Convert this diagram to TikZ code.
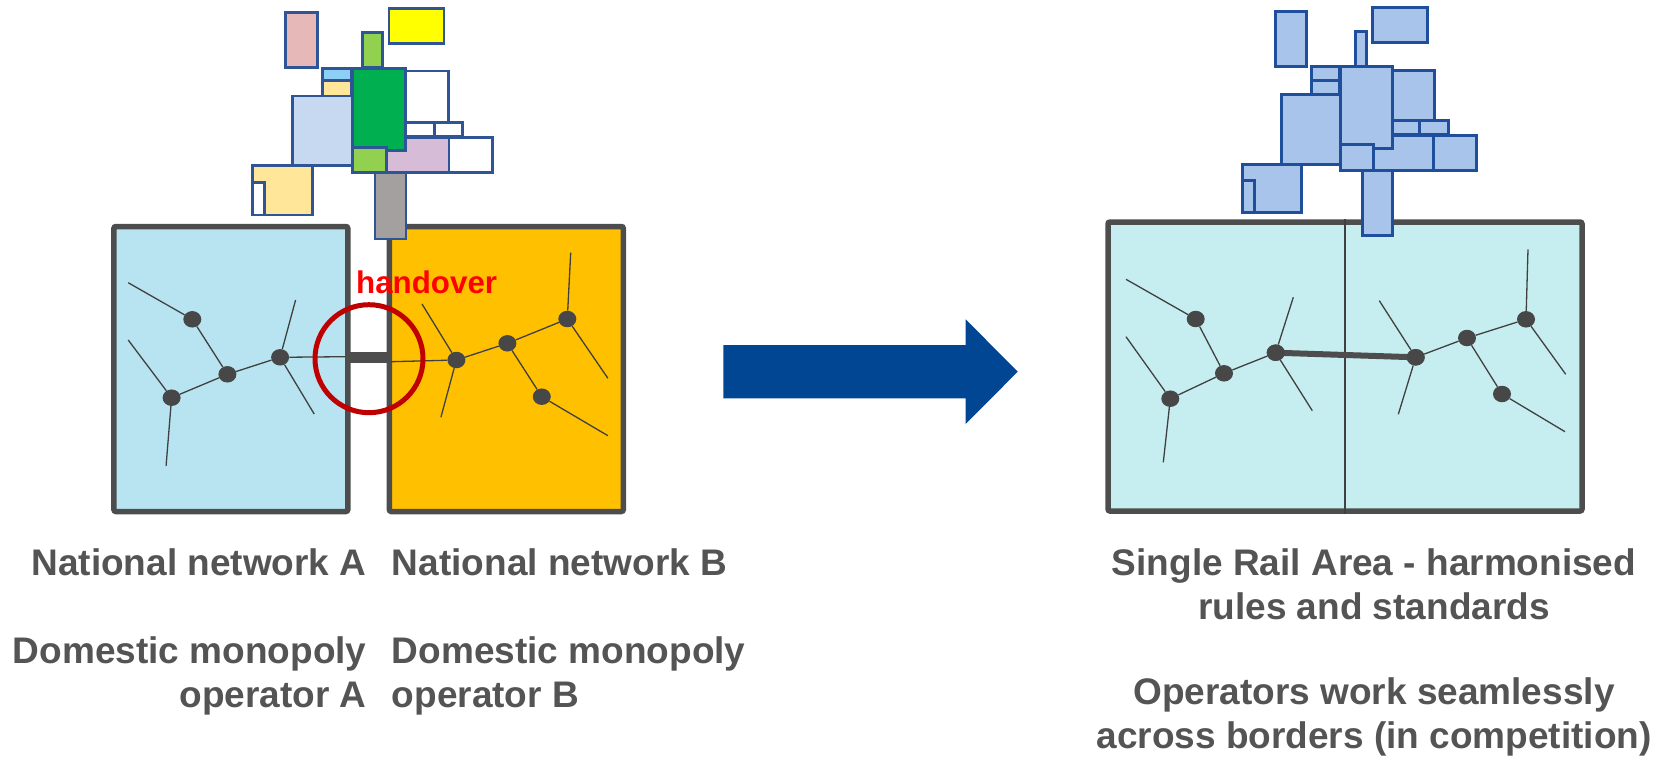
\documentclass[tikz,border=0pt]{standalone}
\usepackage{fontspec}
\setmainfont{Liberation Sans}
\usetikzlibrary{shapes.geometric}

\definecolor{txtgray}{HTML}{545454}
\definecolor{edgegray}{HTML}{4D4D4D}
\definecolor{linegray}{HTML}{404040}
\definecolor{nodegray}{HTML}{474747}
\definecolor{netA}{HTML}{B7E4F0}
\definecolor{netB}{HTML}{FFC000}
\definecolor{netS}{HTML}{C6EEF0}
\definecolor{ringred}{HTML}{C00000}
\definecolor{arrowblue}{RGB}{0,70,147}
\definecolor{cellline}{HTML}{2F5597}
\definecolor{celldark}{HTML}{1F4E9A}
\definecolor{cellblue}{HTML}{A9C4EB}
\definecolor{cpink}{HTML}{E6B9B8}
\definecolor{cyellow}{HTML}{FFFF00}
\definecolor{clgreen}{HTML}{92D050}
\definecolor{csky}{HTML}{8ECFF5}
\definecolor{ccream}{HTML}{FFE699}
\definecolor{cgreen}{HTML}{00B050}
\definecolor{csteel}{HTML}{C6D9F1}
\definecolor{clilac}{HTML}{D6BCD6}
\definecolor{cgray}{HTML}{A5A0A0}

\tikzset{
  netbox/.style={draw=edgegray, line width=5.5pt, rounded corners=2pt, inner sep=0pt},
  stn/.style={ellipse, fill=nodegray, minimum width=18pt, minimum height=16.5pt, inner sep=0pt},
  trk/.style={draw=linegray, line width=1.3pt},
  cellA/.style={draw=cellline, line width=2.5pt},
  cellB/.style={draw=celldark, line width=3pt, fill=cellblue},
  lbl/.style={text=txtgray, font=\fontsize{37}{44}\selectfont\bfseries, inner sep=0pt},
}

\begin{document}
\begin{tikzpicture}[x=1pt, y=-1pt]
\useasboundingbox (0,0) rectangle (1660,763);

% ---------- two national networks ----------
\node[netbox, fill=netA, minimum width=233.9pt, minimum height=285pt] (boxA) at (230.85,369) {};
\node[netbox, fill=netB, minimum width=234pt, minimum height=285pt] (boxB) at (506.3,369) {};

% network A
\node[stn] (a1) at (192.3,319.3) {};
\node[stn] (a2) at (227.4,374.3) {};
\node[stn] (a3) at (171.6,397.7) {};
\node[stn] (a4) at (280.1,357.3) {};
\coordinate (a1e) at (128.2,282.7);
\coordinate (a3w) at (128.2,340);
\coordinate (a3s) at (166.1,465.7);
\coordinate (a4n) at (295.6,300);
\coordinate (a4s) at (314.2,414);
\coordinate (a4b) at (345.2,356.7);
\draw[trk] (a1e) -- (a1) -- (a2);
\draw[trk] (a3w) -- (a3) -- (a3s);
\draw[trk] (a3) -- (a2) -- (a4);
\draw[trk] (a4n) -- (a4) -- (a4s);
\draw[trk] (a4) -- (a4b);

% network B
\node[stn] (b1) at (456.4,360) {};
\node[stn] (b2) at (507.4,343.3) {};
\node[stn] (b3) at (567.3,319) {};
\node[stn] (b4) at (541.8,396.7) {};
\coordinate (b1n) at (422,304);
\coordinate (b1s) at (440.9,417.3);
\coordinate (b3n) at (570.7,252.7);
\coordinate (b3e) at (607.9,378.3);
\coordinate (b4e) at (607.9,435.7);
\coordinate (b1b) at (391,361.7);
\draw[trk] (b1n) -- (b1) -- (b1s);
\draw[trk] (b1b) -- (b1) -- (b2) -- (b3);
\draw[trk] (b3n) -- (b3) -- (b3e);
\draw[trk] (b2) -- (b4) -- (b4e);

% link across the border
\coordinate (gapL) at (350.3,357.8);
\coordinate (gapR) at (386.8,357.8);
\draw[draw=edgegray, line width=11pt] (gapL) -- (gapR);

% handover ring
\node[circle, draw=ringred, line width=5pt, minimum size=108pt, inner sep=0pt] (ring) at (369,358.7) {};
\node[anchor=base west, inner sep=0pt, text=red, font=\fontsize{31.3}{37}\selectfont\bfseries] (handover) at (356,293.3) {handover};

% ---------- cluster of national systems (left) ----------
\draw[cellA, fill=cpink]   (285.7,12.3) rectangle (317.7,67.7);
\draw[cellA, fill=cyellow] (389,8.3) rectangle (444,43.3);
\draw[cellA, fill=clgreen] (362.7,32.3) rectangle (382.7,67.7);
\draw[cellA, fill=csky]    (322.7,68.3) rectangle (351.7,80.7);
\draw[cellA, fill=ccream]  (322.7,80.7) rectangle (351.7,96);
\draw[cellA, fill=white]   (405.7,71) rectangle (448.3,122.7);
\draw[cellA, fill=white]   (405.7,122.7) rectangle (434.3,136.7);
\draw[cellA, fill=white]   (434.3,122.7) rectangle (462.7,136.7);
\draw[cellA, fill=csteel]  (292.3,96) rectangle (352.3,165.7);
\draw[cellA, fill=clilac]  (386.7,137.3) rectangle (449,172.7);
\draw[cellA, fill=white]   (449,137.3) rectangle (492.3,172.7);
\draw[cellA, fill=cgreen]  (352.3,68.3) rectangle (405.7,150.7);
\draw[cellA, fill=clgreen] (352.3,147.7) rectangle (386.7,172.7);
\draw[cellA, fill=ccream]  (252.3,165.7) rectangle (312.7,215);
\draw[cellA, fill=white]   (252.3,182.7) rectangle (264.3,215);
\draw[cellA, fill=cgray]   (375,172.7) rectangle (406,239);

% ---------- arrow ----------
\fill[arrowblue] (723.3,345) -- (965.7,345) -- (965.7,319.3) -- (1017.7,371.7)
  -- (965.7,424) -- (965.7,398.3) -- (723.3,398.3) -- cycle;

% ---------- single rail area ----------
\node[netbox, fill=netS, minimum width=474pt, minimum height=289pt] (boxS) at (1345,366.5) {};
\draw[draw=linegray, line width=1.5pt] (boxS.north) -- (boxS.south);

\node[stn] (n1) at (1195.7,319) {};
\node[stn] (n2) at (1224,373.3) {};
\node[stn] (n3) at (1170.3,398.7) {};
\node[stn] (n4) at (1275.7,352.7) {};
\node[stn] (n5) at (1415.7,357.3) {};
\node[stn] (n6) at (1467,338) {};
\node[stn] (n7) at (1526,319.3) {};
\node[stn] (n8) at (1502,394) {};
\coordinate (n1e) at (1126,279.3);
\coordinate (n3w) at (1126,336.7);
\coordinate (n3s) at (1163.3,462.3);
\coordinate (n4n) at (1293.3,297.3);
\coordinate (n4s) at (1312.3,410.7);
\coordinate (n5n) at (1379.3,300.7);
\coordinate (n5s) at (1398.3,414.3);
\coordinate (n7n) at (1528,249.3);
\coordinate (n7e) at (1565.7,374.3);
\coordinate (n8e) at (1565,431.7);
\draw[trk] (n1e) -- (n1) -- (n2);
\draw[trk] (n3w) -- (n3) -- (n3s);
\draw[trk] (n3) -- (n2) -- (n4);
\draw[trk] (n4n) -- (n4) -- (n4s);
\draw[draw=edgegray, line width=6pt] (n4.center) -- (n5.center);
\draw[trk] (n5n) -- (n5) -- (n5s);
\draw[trk] (n5) -- (n6) -- (n7);
\draw[trk] (n7n) -- (n7) -- (n7e);
\draw[trk] (n6) -- (n8) -- (n8e);
\node[stn] at (n4) {};
\node[stn] at (n5) {};

% ---------- cluster of harmonised systems (right) ----------
\draw[cellB] (1275,11.7) rectangle (1306.7,66);
\draw[cellB] (1372.7,7.3) rectangle (1427.3,42.3);
\draw[cellB] (1355,31) rectangle (1366.7,66);
\draw[cellB] (1311.7,66) rectangle (1339.3,80);
\draw[cellB] (1311.7,80) rectangle (1339.3,94.3);
\draw[cellB] (1392.3,70) rectangle (1434,120.7);
\draw[cellB] (1392.3,120.7) rectangle (1419.3,134);
\draw[cellB] (1419.3,120.7) rectangle (1448.3,134);
\draw[cellB] (1281,94.3) rectangle (1340,164);
\draw[cellB] (1373.3,135) rectangle (1433.3,170.7);
\draw[cellB] (1433.3,135) rectangle (1476,170.7);
\draw[cellB] (1340,66) rectangle (1392.3,148.3);
\draw[cellB] (1340,144) rectangle (1373.3,170.7);
\draw[cellB] (1242.3,164) rectangle (1301.7,212.3);
\draw[cellB] (1242.3,180) rectangle (1254.3,212.3);
\draw[cellB] (1362.3,170.7) rectangle (1392.3,235.7);

% ---------- captions (multi-line nodes anchored on their last baseline) ----------
\node[lbl, anchor=base east] (capA) at (366.7,575) {National network A};
\node[lbl, anchor=base west] (capB) at (391.7,575) {National network B};
\node[lbl, anchor=base east, align=right] (opA) at (366.7,707) {Domestic monopoly\\operator A};
\node[lbl, anchor=base west, align=left] (opB) at (391.7,707) {Domestic monopoly\\operator B};
\node[lbl, anchor=base, align=center] (capS) at (1374,619) {Single Rail Area - harmonised\\rules and standards};
\node[lbl, anchor=base, align=center] (opS) at (1374,748) {Operators work seamlessly\\across borders (in competition)};
\end{tikzpicture}
\end{document}
